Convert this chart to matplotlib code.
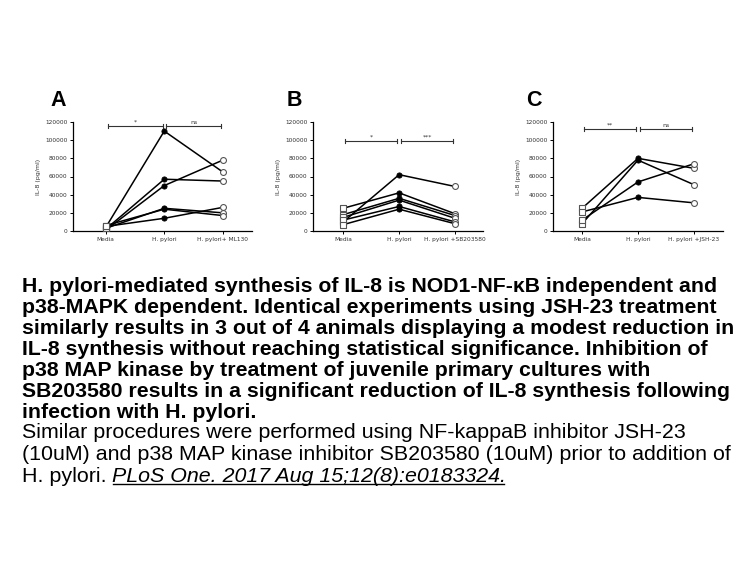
import matplotlib
matplotlib.use("Agg")
import matplotlib.pyplot as plt

# ---------------- data ----------------
yticks = [0, 20000, 40000, 60000, 80000, 100000, 120000]
ytick_labels = ["0", "20000", "40000", "60000", "80000", "100000", "120000"]

xlabels_A = ["Media", "H. pylori", "H. pylori+ ML130"]
media_A = [4000, 2000, 1000, 3000, 6000, 5000]
hp_A = [110000, 57000, 50000, 25000, 24000, 14000]
trt_A = [65000, 55000, 78000, 20000, 17000, 26000]
sig_A = ["*", "ns"]
sigy_A = 115500

xlabels_B = ["Media", "H. pylori", "H. pylori +SB203580"]
media_B = [10000, 25000, 18000, 15000, 12000, 7000]
hp_B = [62000, 42000, 36000, 34000, 27000, 24000]
trt_B = [49000, 19000, 17000, 14000, 10000, 8000]
sig_B = ["*", "***"]
sigy_B = 99000

xlabels_C = ["Media", "H. pylori", "H. pylori +JSH-23"]
media_C = [25000, 8000, 12000, 21000]
hp_C = [80000, 78000, 54000, 37000]
trt_C = [69000, 51000, 74000, 31000]
sig_C = ["**", "ns"]
sigy_C = 112000

panel_letters = ["A", "B", "C"]

caption_bold = [
    "H. pylori-mediated synthesis of IL-8 is NOD1-NF-\u03baB independent and",
    "p38-MAPK dependent. Identical experiments using JSH-23 treatment",
    "similarly results in 3 out of 4 animals displaying a modest reduction in",
    "IL-8 synthesis without reaching statistical significance. Inhibition of",
    "p38 MAP kinase by treatment of juvenile primary cultures with",
    "SB203580 results in a significant reduction of IL-8 synthesis following",
    "infection with H. pylori.",
]
caption_regular = [
    "Similar procedures were performed using NF-kappaB inhibitor JSH-23",
    "(10uM) and p38 MAP kinase inhibitor SB203580 (10uM) prior to addition of",
]
caption_last = "H. pylori. "
citation = "PLoS One. 2017 Aug 15;12(8):e0183324."

# ---------------- layout ----------------
W, H = 756, 567
fig = plt.figure(figsize=(W / 100, H / 100), dpi=100)
fig.patch.set_facecolor("white")

def px_axes(l, r, b, t):
    return fig.add_axes([l / W, 1 - b / H, (r - l) / W, (b - t) / H])

panels = [
    (px_axes(73, 252, 231, 122), xlabels_A, media_A, hp_A, trt_A, sig_A, sigy_A, (-0.56, 2.5), 50),
    (px_axes(313, 483, 231, 122), xlabels_B, media_B, hp_B, trt_B, sig_B, sigy_B, (-0.54, 2.5), 287),
    (px_axes(553, 723, 231, 122), xlabels_C, media_C, hp_C, trt_C, sig_C, sigy_C, (-0.52, 2.52), 526),
]

for i, (ax, xl, m, h, t, sig, sy, xlim, letter_x) in enumerate(panels):
    for a, b, c in zip(m, h, t):
        ax.plot([0, 1, 2], [a, b, c], color="black", lw=1.1, zorder=2)
    ax.scatter([0] * len(m), m, marker="s", s=14, facecolor="white",
               edgecolor="#555555", linewidths=0.8, zorder=3)
    ax.scatter([1] * len(h), h, marker="o", s=14, facecolor="black",
               edgecolor="black", linewidths=0.6, zorder=3)
    ax.scatter([2] * len(t), t, marker="o", s=18, facecolor="white",
               edgecolor="#555555", linewidths=0.8, zorder=3)
    # significance bars
    for j in range(2):
        ax.plot([j + 0.03, j + 0.97], [sy, sy], color="#333333", lw=0.8, clip_on=False)
        for xx in (j + 0.03, j + 0.97):
            ax.plot([xx, xx], [sy - 2000, sy + 2000], color="#333333", lw=0.8, clip_on=False)
        ax.text(j + 0.5, sy + 1500, sig[j], ha="center", va="bottom",
                fontsize=4.5, color="#333333", family="DejaVu Sans")
    ax.set_xlim(*xlim)
    ax.set_ylim(0, 120000)
    ax.set_xticks([0, 1, 2])
    ax.set_xticklabels(xl, fontsize=4.2, color="#333333")
    ax.set_yticks(yticks)
    ax.set_yticklabels(ytick_labels, fontsize=4.2, color="#333333")
    ax.tick_params(length=2.5, width=0.7, pad=1.5)
    ax.set_ylabel("IL-8 (pg/ml)", fontsize=4.5, color="#333333", labelpad=3)
    for s in ("top", "right"):
        ax.spines[s].set_visible(False)
    for s in ("left", "bottom"):
        ax.spines[s].set_linewidth(0.9)
    ax.patch.set_alpha(0)
    fig.text(letter_x / W, 1 - 101 / H, panel_letters[i], fontsize=15.5,
             fontweight="bold", family="Liberation Sans", va="center", ha="left")

# ---------------- caption ----------------
x0 = 22 / W
for k, line in enumerate(caption_bold):
    y = 287 + 20.9 * k
    fig.text(x0, 1 - y / H, line, fontsize=15.3, fontweight="bold",
             family="Liberation Sans", va="center", ha="left")

for k, line in enumerate(caption_regular):
    y = 433 + 21.3 * k
    fig.text(x0, 1 - y / H, line, fontsize=15.4, family="Liberation Sans",
             va="center", ha="left")

y_last = 1 - 476 / H
t1 = fig.text(x0, y_last, caption_last, fontsize=15.4, family="Liberation Sans",
              va="center", ha="left")
fig.canvas.draw()
r = fig.canvas.get_renderer()
bb = t1.get_window_extent(r)
x_cit = bb.x1 / W
t2 = fig.text(x_cit, y_last, citation, fontsize=15.4, family="Liberation Sans",
              style="italic", va="center", ha="left")
bb2 = t2.get_window_extent(r)
uy = (bb2.y0 + 2) / H
fig.add_artist(plt.Line2D([bb2.x0 / W, bb2.x1 / W - 0.003], [uy, uy], color="black", lw=1.0))

fig.savefig("out.png", dpi=100)
